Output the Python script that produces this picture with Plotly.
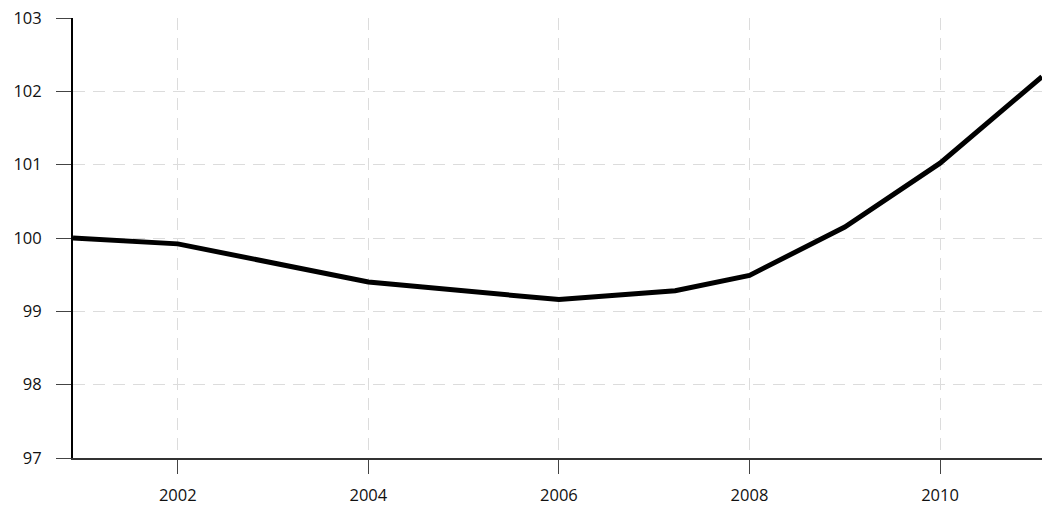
import plotly.graph_objects as go

years = [2000.90, 2002.0, 2004.0, 2006.0, 2007.22, 2008.0, 2009.0, 2010.0, 2011.07]
values = [100.0, 99.92, 99.40, 99.16, 99.28, 99.49, 100.15, 101.02, 102.2]
x_ticks = [2002, 2004, 2006, 2008, 2010]
x_tick_labels = ["2002", "2004", "2006", "2008", "2010"]
y_ticks = [97, 98, 99, 100, 101, 102, 103]

fig = go.Figure()
fig.add_trace(go.Scatter(
    x=years, y=values, mode="lines",
    line=dict(color="#000000", width=5),
    hoverinfo="skip", showlegend=False,
))

fig.update_layout(
    width=1042, height=505,
    margin=dict(l=73, r=0, t=18, b=47, autoexpand=False),
    paper_bgcolor="white", plot_bgcolor="white",
    font=dict(family="Open Sans", size=16.5, color="#111111"),
    showlegend=False,
)
fig.update_xaxes(
    range=[years[0], years[-1]],
    tickvals=x_ticks, ticktext=x_tick_labels,
    ticks="outside", ticklen=14, tickwidth=1, tickcolor="#444444",
    ticklabelstandoff=7,
    showline=True, linecolor="#333333", linewidth=1.5,
    showgrid=True, gridcolor="#dcdcdc", gridwidth=1.2, griddash="12px,8px",
    zeroline=False,
)
fig.update_yaxes(
    range=[97, 103],
    tickvals=y_ticks,
    ticks="outside", ticklen=15, tickwidth=1, tickcolor="#444444",
    ticklabelstandoff=11,
    showline=True, linecolor="#000000", linewidth=2,
    showgrid=True, gridcolor="#dcdcdc", gridwidth=1.2, griddash="12px,8px",
    zeroline=False,
)

fig.write_html(
    "out.html",
    config={"displayModeBar": False},
    post_script="document.body.style.margin='0';document.body.style.overflow='hidden';",
)
